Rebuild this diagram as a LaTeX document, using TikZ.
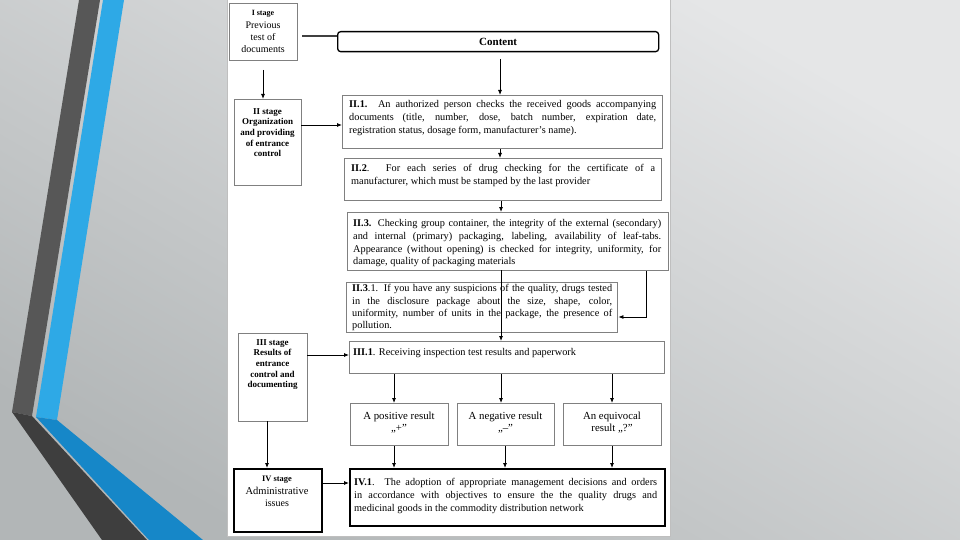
\documentclass[tikz,border=0pt]{standalone}
\usepackage{fontspec}
\setmainfont{Liberation Serif}
\usetikzlibrary{arrows.meta}
\definecolor{bgL}{HTML}{E5E6E7}
\definecolor{bgD}{HTML}{B2B6B7}
\definecolor{dgA}{HTML}{575757}
\definecolor{dgB}{HTML}{3E3E3E}
\definecolor{blA}{HTML}{2EA9E6}
\definecolor{blB}{HTML}{1687C8}
\definecolor{bxc}{HTML}{808080}
\begin{document}
\begin{tikzpicture}[x=1pt,y=-1pt,
  box/.style={draw=bxc, line width=1.4pt, fill=white, inner sep=0pt, anchor=north west},
  bigbox/.style={draw=black, line width=2pt, fill=white, inner sep=0pt, anchor=north west},
  txt/.style={inner sep=0pt, anchor=north west, align=justify, font=\fontsize{10.3}{12.8}\selectfont},
  stxt/.style={inner sep=0pt, anchor=north, align=center},
  stbold/.style={stxt, font=\fontsize{9}{10.7}\selectfont\bfseries},
  rtxt/.style={stxt, font=\fontsize{10.8}{12}\selectfont},
  arr/.style={draw=black, line width=0.8pt, -{Latex[length=5pt,width=4pt]}},
  conn/.style={draw=black!75, line width=1.2pt}]
\useasboundingbox (0,0) rectangle (960,540);
% background
\shade[top color=bgL, bottom color=bgD, shading angle=-30] (0,0) rectangle (960,540);
% decorative stripes
\fill[dgA] (79,0) -- (100,0) -- (32,416) -- (12,412) -- cycle;
\fill[dgB] (12,412) -- (32,416) -- (147,540) -- (102,540) -- cycle;
\fill[blA] (103,0) -- (124,0) -- (57,420) -- (36,417) -- cycle;
\fill[blB] (36,417) -- (57,420) -- (203,540) -- (149,540) -- cycle;
% page
\draw[fill=white, draw=black!25, line width=0.6pt] (227.5,-1) rectangle (670,536);

% stage boxes
\node[box, minimum width=68, minimum height=57] (s1) at (229,3) {};
\node[stxt] (s1t) at (263,10.5) {{\fontsize{8}{9.5}\selectfont\bfseries I stage}\\[0.5pt]
  \fontsize{10}{12.5}\selectfont Previous\\ test of\\ documents};
\node[box, minimum width=67, minimum height=86] (s2) at (234,99) {};
\node[stbold] (s2t) at (267.5,108) {II stage\\ Organization\\ and providing\\ of entrance\\ control};
\node[box, minimum width=69, minimum height=88] (s3) at (238,333) {};
\node[stbold] (s3t) at (272.5,339) {III stage\\ Results of\\ entrance\\ control and\\ documenting};
\node[bigbox, minimum width=88, minimum height=63] (s4) at (233,468) {};
\node[stxt] (s4t) at (277,476) {{\fontsize{8.4}{10}\selectfont\bfseries IV stage}\\[1pt]
  \fontsize{10.5}{11.8}\selectfont Administrative\\ issues};

% content header
\node[draw=black, line width=1.3pt, rounded corners=3pt, fill=white, anchor=north west,
  minimum width=321, minimum height=20, inner sep=0pt,
  font=\fontsize{11}{12}\selectfont\bfseries] (c) at (337,31) {Content};

% main boxes
\node[box, minimum width=320, minimum height=53] (b1) at (342,95) {};
\node[txt, text width=307] (b1t) at (349,100.5) {\textbf{II.1.} An authorized person checks the received goods accompanying\linebreak documents (title, number, dose, batch number, expiration date,\linebreak registration status, dosage form, manufacturer's name).};
\node[box, minimum width=317, minimum height=42] (b2) at (344,158) {};
\node[txt, text width=304] (b2t) at (351,164.5) {\textbf{II.2}. For each series of drug checking for the certificate of a\linebreak manufacturer, which must be stamped by the last provider};
\node[box, minimum width=321, minimum height=58] (b3) at (347,212) {};
\node[txt, text width=308] (b3t) at (353,219) {\textbf{II.3.} Checking group container, the integrity of the external (secondary)\linebreak and internal (primary) packaging, labeling, availability of leaf-tabs.\linebreak Appearance (without opening) is checked for integrity, uniformity, for\linebreak damage, quality of packaging materials};
\node[box, minimum width=271, minimum height=50] (b31) at (346,282) {};
\node[txt, text width=260, font=\fontsize{10.3}{12.3}\selectfont] (b31t) at (352,284.5) {\textbf{II.3}.1. If you have any suspicions of the quality, drugs tested\linebreak in the disclosure package about the size, shape, color,\linebreak uniformity, number of units in the package, the presence of\linebreak pollution.};
\node[box, minimum width=315, minimum height=32] (b4) at (349,341) {};
\node[txt, text width=300] (b4t) at (353,348.5) {\textbf{III.1}. Receiving inspection test results and paperwork};
\node[box, minimum width=98, minimum height=42] (r1) at (350,403) {};
\node[rtxt] (r1t) at (399,412) {A positive result\\ „+”};
\node[box, minimum width=97, minimum height=42] (r2) at (457,403) {};
\node[rtxt] (r2t) at (505.5,412) {A negative result\\ „–”};
\node[box, minimum width=98, minimum height=42] (r3) at (563,403) {};
\node[rtxt] (r3t) at (612,412) {An equivocal\\ result „?”};
\node[bigbox, minimum width=315, minimum height=57] (b5) at (349,468) {};
\node[txt, text width=303] (b5t) at (354,478.5) {\textbf{IV.1}. The adoption of appropriate management decisions and orders\linebreak in accordance with objectives to ensure the the quality drugs and\linebreak medicinal goods in the commodity distribution network};

% connector helper coordinates
\coordinate (h1) at (302,36);
\coordinate (v0) at (500,59);
\coordinate (v1) at (501,270);
\coordinate (v2) at (263,70);
\coordinate (e2) at (646,317);
\coordinate (h2) at (301,125);
\coordinate (h3) at (307,355);
\coordinate (h4) at (321,483);
\coordinate (v3) at (267,421);
\coordinate (x1) at (394,0);
\coordinate (x2) at (501,0);
\coordinate (x3) at (612,0);
\coordinate (x4) at (505,0);

% connectors
\draw[conn] (h1) -- (h1 -| c.west);
\draw[arr] (v2) -- (v2 |- s2.north);
\draw[arr] (v0) -- (v0 |- b1.north);
\draw[arr] (h2) -- (h2 -| b1.west);
\draw[arr] (b1.south -| v0) -- (b2.north -| v0);
\draw[arr] (b2.south -| v1) -- (b3.north -| v1);
\draw[arr] (v1) -- (v1 |- b4.north);
\draw[arr] (b3.south -| e2) -- (e2) -- (e2 -| b31.east);
\draw[arr] (h3) -- (h3 -| b4.west);
\draw[arr] (b4.south -| x1) -- (r1.north -| x1);
\draw[arr] (b4.south -| x2) -- (r2.north -| x2);
\draw[arr] (b4.south -| x3) -- (r3.north -| x3);
\draw[arr] (r1.south -| x1) -- (b5.north -| x1);
\draw[arr] (r2.south -| x4) -- (b5.north -| x4);
\draw[arr] (r3.south -| x3) -- (b5.north -| x3);
\draw[arr] (v3) -- (v3 |- s4.north);
\draw[arr] (h4) -- (h4 -| b5.west);
\end{tikzpicture}
\end{document}
